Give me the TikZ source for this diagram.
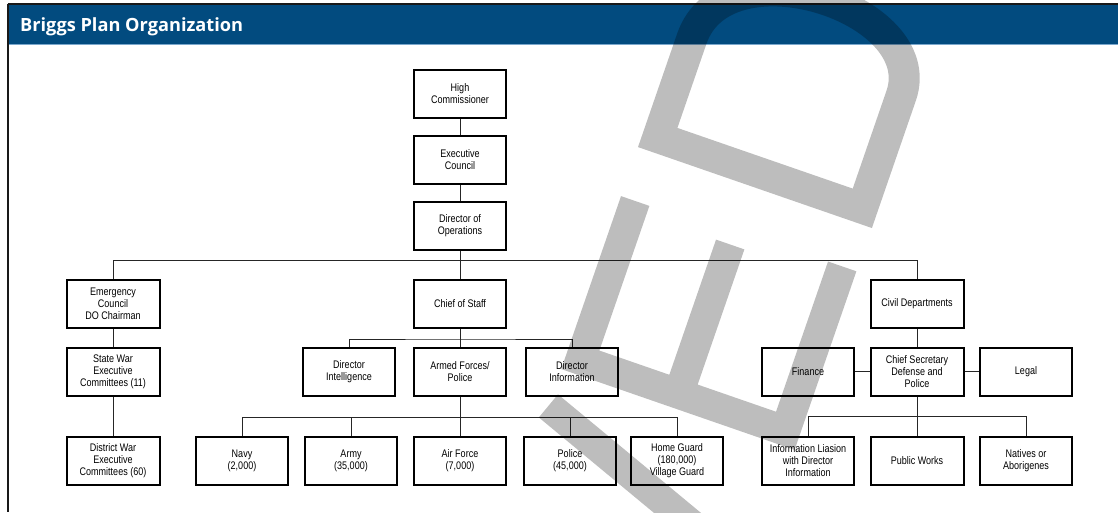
\documentclass[tikz,border=0pt]{standalone}
\usepackage{fontspec}
\usepackage{tikz}
\newfontfamily\unitfont[FakeStretch=0.82]{Liberation Sans}
\newfontfamily\headfont{Open Sans}
\definecolor{headblue}{HTML}{024B7F}
\definecolor{headrule}{HTML}{7AA7CC}

\begin{document}
\begin{tikzpicture}[x=1pt,y=-1pt,
  unit/.style={draw=black, line width=2pt, fill=white, minimum width=92pt, minimum height=48pt,
    inner sep=1pt, align=center, text=black, font=\unitfont\fontsize{11}{12}\selectfont},
  link/.style={draw=black!85, line width=0.9pt},
  stamp/.style={draw=black, opacity=0.26, line join=miter}]
\useasboundingbox (0,0) rectangle (1118,512);
\fill[white] (0,0) rectangle (1118,512);
\fill[headblue] (8,5) rectangle (1118,43.5);
\draw[headrule, line width=1pt] (8,44) -- (1118,44);
\draw[black!90, line width=1.5pt] (7.5,4) -- (1118,4);
\draw[black!90, line width=1.5pt] (8,4) -- (8,512);
\node[anchor=base west, text=white, font=\headfont\bfseries\fontsize{18.2}{20}\selectfont, inner sep=0]
  (title) at (20,31.5) {Briggs Plan Organization};

\node[unit] (hc) at (460,93.6) {High\\Commissioner};
\node[unit] (ec) at (460,159.8) {Executive\\Council};
\node[unit] (dops) at (460,225.5) {Director of\\Operations};
\node[unit, minimum width=93pt] (emerg) at (113,304) {Emergency\\Council\\DO Chairman};
\node[unit] (cos) at (460,304) {Chief of Staff};
\node[unit, minimum width=93pt] (civil) at (917,304) {Civil Departments};
\node[unit, minimum width=93pt] (swec) at (113,371.5) {State War\\Executive\\Committees (11)};
\node[unit] (dintel) at (349,371.5) {Director\\Intelligence};
\node[unit] (armed) at (460,371.5) {Armed Forces/\\Police};
\node[unit] (dinfo) at (572,371.5) {Director\\Information};
\node[unit] (fin) at (808,371.5) {Finance};
\node[unit, minimum width=93pt] (csec) at (917,371.5) {Chief Secretary\\Defense and\\Police};
\node[unit] (legal) at (1026,371.5) {Legal};
\node[unit, minimum width=93pt] (dwec) at (113,461) {District War\\Executive\\Committees (60)};
\node[unit] (navy) at (242,461) {Navy\\(2,000)};
\node[unit] (army) at (351,461) {Army\\(35,000)};
\node[unit] (airf) at (460,461) {Air Force\\(7,000)};
\node[unit] (police) at (570,461) {Police\\(45,000)};
\node[unit] (hguard) at (677,461) {Home Guard\\(180,000)\\Village Guard};
\node[unit] (infol) at (808,461) {Information Liasion\\with Director\\Information};
\node[unit, minimum width=93pt] (pworks) at (917,461) {Public Works};
\node[unit] (natives) at (1026,461) {Natives or\\Aborigenes};

\coordinate (bustop) at (460,260.5);
\coordinate (buscos) at (460,339);
\coordinate (busarm) at (460,417.5);
\coordinate (buscs) at (917,416.7);

\draw[link] (hc) -- (ec);
\draw[link] (ec) -- (dops);
\draw[link] (dops) -- (bustop);
\draw[link] (emerg) |- (bustop) -| (civil);
\draw[link] (bustop) -- (cos);
\draw[link] (emerg) -- (swec);
\draw[link] (swec) -- (dwec);
\draw[link] (cos) -- (buscos);
\draw[link] (dintel) |- (buscos) -| (dinfo);
\draw[link] (buscos) -- (armed);
\draw[link] (armed) -- (busarm);
\draw[link] (navy) |- (busarm) -| (hguard);
\draw[link] (army) |- (busarm);
\draw[link] (police) |- (busarm);
\draw[link] (busarm) -- (airf);
\draw[link] (civil) -- (csec);
\draw[link] (fin) -- (csec);
\draw[link] (csec) -- (legal);
\draw[link] (csec) -- (buscs);
\draw[link] (infol) |- (buscs) -| (natives);
\draw[link] (buscs) -- (pworks);

\begin{scope}
\clip (0,0) rectangle (1118,512);
\draw[stamp, line width=31pt] (657.7,137.5) -- (862.3,208.3) -- (901.3,95.3)
  .. controls (931,8) and (725,-58) .. (691.8,38.7) -- cycle;
\draw[stamp, line width=30pt] (635.2,201) -- (580.3,359.8) -- (785.3,430.8) -- (842.2,266.4)
  (678.6,393.8) -- (730.2,244.5) (548.4,405.9) -- (778.7,596.8);
\end{scope}
\end{tikzpicture}
\end{document}
